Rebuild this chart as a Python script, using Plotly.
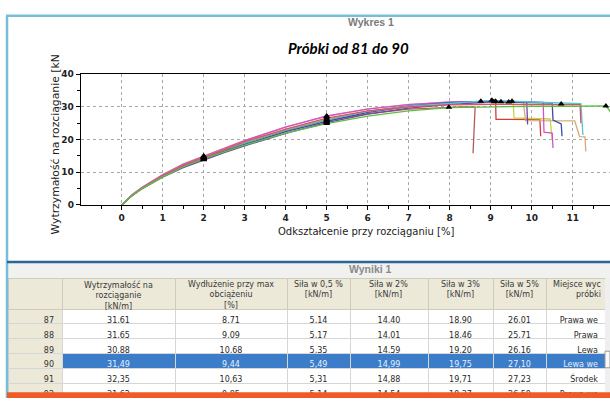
import plotly.graph_objects as go

W, H = 610, 403

# ---------------- chart data (strain [%], force [kN/m]) ----------------
curve_colors = ["#b05a5a", "#d83a3a", "#c6d44a", "#d4aa7c", "#7444a8",
                "#d052c8", "#3c4ca8", "#52c6d6", "#e0505e", "#5cbf42"]

c1_x = [0, 0.25, 0.5, 1, 1.5, 2, 2.5, 3, 4, 5, 6, 7, 7.98, 8.3, 8.62, 8.6, 8.57]
c1_y = [0, 3.0, 5.35, 9.1, 12.2, 14.6, 16.9, 19.0, 22.7, 25.8, 27.9, 29.3, 29.9, 30.0, 29.9, 22.5, 15.8]

c2_x = [0, 0.25, 0.5, 1, 1.5, 2, 2.5, 3, 4, 5, 6, 7, 8, 9.08, 9.12, 9.13, 9.6, 10.2, 10.22]
c2_y = [0, 2.9, 5.14, 8.9, 11.9, 14.4, 16.8, 18.9, 23.0, 26.0, 28.6, 30.3, 31.2, 31.6, 31.5, 26.2, 26.2, 26.1, 21.0]

c3_x = [0, 0.25, 0.5, 1, 1.5, 2, 2.5, 3, 4, 5, 6, 7, 8, 9.12, 9.55, 9.57, 10.0, 10.45, 10.5]
c3_y = [0, 2.9, 5.17, 8.7, 11.6, 14.0, 16.3, 18.46, 22.5, 25.7, 28.3, 30.1, 31.2, 31.7, 31.5, 26.6, 26.5, 26.3, 19.9]

c4_x = [0, 0.25, 0.5, 1, 1.5, 2, 2.5, 3, 4, 5, 6, 7, 8, 9.44, 9.8, 9.85, 10.5, 11.05, 11.17, 11.3, 11.32]
c4_y = [0, 3.1, 5.49, 9.3, 12.6, 14.99, 17.5, 19.75, 23.9, 27.1, 29.4, 30.8, 31.4, 31.49, 31.3, 25.8, 25.8, 25.7, 20.9, 20.8, 16.4]

c5_x = [0, 0.25, 0.5, 1, 1.5, 2, 2.5, 3, 4, 5, 6, 7, 8, 9.25, 9.88, 9.9]
c5_y = [0, 2.8, 5.0, 8.5, 11.4, 13.8, 16.0, 18.1, 21.9, 25.2, 27.8, 29.6, 30.8, 31.6, 31.3, 24.6]

c6_x = [0, 0.25, 0.5, 1, 1.5, 2, 2.5, 3, 4, 5, 6, 7, 8, 9.52, 10.28, 10.3, 10.5, 10.52]
c6_y = [0, 3.05, 5.31, 9.2, 12.4, 14.88, 17.3, 19.71, 23.8, 27.23, 29.3, 30.7, 31.5, 31.7, 31.4, 22.3, 22.0, 17.4]

c7_x = [0, 0.25, 0.5, 1, 1.5, 2, 2.5, 3, 4, 5, 6, 7, 8, 8.76, 9.5, 10.5, 10.52, 10.72, 10.74]
c7_y = [0, 2.85, 5.1, 8.7, 11.7, 14.1, 16.4, 18.5, 22.4, 25.6, 28.3, 30.2, 31.3, 31.7, 31.5, 31.2, 26.0, 24.8, 21.0]

c8_x = [0, 0.25, 0.5, 1, 1.5, 2, 2.5, 3, 4, 5, 6, 7, 8, 9.03, 10.0, 11.2, 11.25]
c8_y = [0, 2.95, 5.2, 8.9, 12.0, 14.5, 16.9, 19.0, 23.0, 26.2, 28.6, 30.2, 31.2, 32.0, 31.5, 31.0, 21.4]

c9_x = [0, 0.25, 0.5, 1, 1.5, 2, 2.5, 3, 4, 5, 6, 7, 8, 9, 10, 10.72, 11.18, 11.2]
c9_y = [0, 2.9, 5.14, 8.9, 12.0, 14.54, 16.9, 19.37, 23.2, 26.59, 28.8, 30.0, 30.6, 30.8, 30.8, 30.9, 30.7, 25.0]

c10_x = [0, 0.25, 0.5, 1, 1.5, 2, 2.5, 3, 4, 5, 6, 7, 8, 9, 10, 11, 11.81, 11.9, 12.0]
c10_y = [0, 2.8, 5.0, 8.6, 11.6, 14.1, 16.2, 18.3, 22.0, 24.9, 27.2, 28.8, 29.8, 30.1, 30.2, 30.2, 30.3, 28.9, 26.8]

curves_x = [c1_x, c2_x, c3_x, c4_x, c5_x, c6_x, c7_x, c8_x, c9_x, c10_x]
curves_y = [c1_y, c2_y, c3_y, c4_y, c5_y, c6_y, c7_y, c8_y, c9_y, c10_y]

# marker points: force at 2 %, force at 5 %, maximum
f2 = [14.6, 14.4, 14.0, 14.99, 13.8, 14.88, 14.1, 14.5, 14.54, 14.1]
f5 = [25.8, 26.0, 25.7, 27.1, 25.2, 27.23, 25.6, 26.2, 26.59, 24.9]
e_max = [7.98, 9.08, 9.12, 9.44, 9.25, 9.52, 8.76, 9.03, 10.72, 11.81]
f_max = [29.9, 31.6, 31.7, 31.49, 31.6, 31.7, 31.7, 32.0, 30.9, 30.3]

x_ticks = [0, 1, 2, 3, 4, 5, 6, 7, 8, 9, 10, 11]
x_minor = [-0.5, 0.5, 1.5, 2.5, 3.5, 4.5, 5.5, 6.5, 7.5, 8.5, 9.5, 10.5, 11.5]
x_cut_tick = 12
y_ticks = [0, 10, 20, 30, 40]
y_minor = [5, 15, 25, 35]

# ---------------- table data ----------------
row_ids = ["87", "88", "89", "90", "91", "92"]
strength = ["31,61", "31,65", "30,88", "31,49", "32,35", "31,62"]
elong = ["8,71", "9,09", "10,68", "9,44", "10,63", "9,85"]
f05 = ["5,14", "5,17", "5,35", "5,49", "5,31", "5,14"]
f2s = ["14,40", "14,01", "14,59", "14,99", "14,88", "14,54"]
f3s = ["18,90", "18,46", "19,20", "19,75", "19,71", "19,37"]
f5s = ["26,01", "25,71", "26,16", "27,10", "27,23", "26,59"]
place = ["Prawa\u00a0we", "Prawa", "Lewa", "Lewa\u00a0we", "Środek", "Prawa\u00a0we"]
headers = ["", "Wytrzymałość na<br>rozciąganie<br>[kN/m]", "Wydłużenie przy max<br>obciążeniu<br>[%]",
           "Siła w 0,5 %<br>[kN/m]", "Siła w 2%<br>[kN/m]", "Siła w 3%<br>[kN/m]",
           "Siła w 5%<br>[kN/m]", "Miejsce wyc<br>próbki"]
selected_row = 3

col_edges = [8, 62, 175, 287, 350, 428, 493, 546, 606]


def px(x):
    return x / W


def py(y):
    return 1 - y / H


fig = go.Figure()

for cx, cy, col in zip(curves_x, curves_y, curve_colors):
    fig.add_trace(go.Scatter(x=cx, y=cy, mode="lines", line=dict(color=col, width=1.3),
                             showlegend=False, hoverinfo="skip"))

mx = [2] * len(f2) + [5] * len(f5) + e_max
my = f2 + f5 + f_max
fig.add_trace(go.Scatter(x=mx, y=my, mode="markers", showlegend=False,
                         marker=dict(symbol="triangle-up", size=6, color="black"),
                         cliponaxis=False))

# table
ncol = len(headers)
nrow = len(row_ids)
beige = "#ece9d9"
blue = "#3b7dc8"
fills = [[beige] * nrow]
fcols = [["#333333"] * nrow]
for c in range(1, ncol):
    fills.append([blue if r == selected_row else "white" for r in range(nrow)])
    fcols.append(["#e6eefa" if r == selected_row else "#2a2a2a" for r in range(nrow)])

widths = [col_edges[i + 1] - col_edges[i] for i in range(ncol)]
fig.add_trace(go.Table(
    domain=dict(x=[px(col_edges[0]), px(col_edges[-1])], y=[0, py(280)]),
    columnwidth=widths,
    header=dict(values=[""] * ncol, fill_color=beige, line_color="#cfcbbd",
                font=dict(family="DejaVu Sans", size=8, color="#3a3a3a"), height=31),
    cells=dict(values=[row_ids, strength, elong, f05, f2s, f3s, f5s, place],
               fill_color=fills, line_color="#d6d6d6",
               font=dict(family="DejaVu Sans", size=8, color=fcols),
               align=["right"] + ["center"] * 6 + ["right"], height=14.8),
))

axis_font = dict(family="DejaVu Sans", size=9, color="#222222", weight="bold")
fig.update_layout(
    width=W, height=H, margin=dict(l=0, r=0, t=0, b=0),
    paper_bgcolor="white", plot_bgcolor="white",
    xaxis=dict(domain=[px(80.7), 1.0], range=[-1, 11.91], tickvals=x_ticks,
               showline=True, linecolor="black", linewidth=1, mirror=True,
               ticks="outside", ticklen=4, tickcolor="black",
               minor=dict(tickvals=x_minor, ticks="outside", ticklen=3, tickcolor="black"),
               showgrid=True, gridcolor="#a8a8a8", griddash="dot", gridwidth=1,
               zeroline=False, tickfont=axis_font),
    yaxis=dict(domain=[py(205), py(71)], range=[0, 40], tickvals=y_ticks,
               showline=True, linecolor="black", linewidth=1,
               ticks="outside", ticklen=4, tickcolor="black",
               minor=dict(tickvals=y_minor, ticks="outside", ticklen=3, tickcolor="black"),
               showgrid=True, gridcolor="#a8a8a8", griddash="dot", gridwidth=1,
               zeroline=False, tickfont=axis_font),
)

shapes = [
    dict(type="line", xref="paper", yref="paper", x0=px(6), x1=1, y0=py(11), y1=py(11),
         line=dict(color="#78bed9", width=2.5)),
    dict(type="line", xref="paper", yref="paper", x0=px(7), x1=px(7), y0=py(11), y1=0,
         line=dict(color="#78bed9", width=2.5)),
    dict(type="rect", xref="paper", yref="paper", x0=px(8), x1=1, y0=py(280), y1=py(264),
         fillcolor="#f1f1ef", line=dict(width=0), layer="below"),
    dict(type="line", xref="paper", yref="paper", x0=px(7), x1=1, y0=py(263.5), y1=py(263.5),
         line=dict(color="#2c6699", width=2.5)),
    dict(type="rect", xref="paper", yref="paper", x0=px(605), x1=1, y0=py(398), y1=py(280),
         fillcolor="#efefef", line=dict(width=0)),
    dict(type="rect", xref="paper", yref="paper", x0=px(605), x1=1, y0=py(372), y1=py(355),
         fillcolor="#fafafa", line=dict(color="#9a9a9a", width=1)),
    dict(type="rect", xref="paper", yref="paper", x0=px(7), x1=1, y0=0, y1=py(397),
         fillcolor="#f05a28", line=dict(width=0)),
]
fig.update_layout(shapes=shapes)


def ann(text, x, y, size, color, family="DejaVu Sans", xanchor="center", yanchor="middle",
        align="center", **kw):
    return dict(text=text, x=px(x), y=py(y), xref="paper", yref="paper", showarrow=False,
                xanchor=xanchor, yanchor=yanchor, align=align,
                font=dict(family=family, size=size, color=color), **kw)


annotations = [
    ann("<b>Wykres 1</b>", 371, 17, 10.5, "#7a7a7a", family="Liberation Sans"),
    ann("<b><i>Próbki od 81 do 90</i></b>", 348, 44, 15, "black", family="Lato"),
    ann("Odkształcenie przy rozciąganiu [%]", 366, 232, 10, "#222222"),
    ann("Wytrzymałość na rozciąganie [kN", 55, 143, 10.8, "#222222", textangle=-90),
    ann("<b>Wyniki 1</b>", 370, 271, 10.5, "#8a8a8a", family="Liberation Sans"),
    dict(text="12", x=x_cut_tick, y=0, xref="x", yref="y", yshift=-5, showarrow=False,
         xanchor="center", yanchor="top", font=axis_font),
]
# header labels
for i in range(1, ncol):
    if i == ncol - 1:
        annotations.append(ann(headers[i], col_edges[i + 1] - 3, 280, 8, "#3a3a3a",
                               xanchor="right", yanchor="top", align="right"))
    else:
        annotations.append(ann(headers[i], (col_edges[i] + col_edges[i + 1]) / 2, 280, 8,
                               "#3a3a3a", yanchor="top"))
fig.update_layout(annotations=annotations)

fig.write_html("out.html", config={"displayModeBar": False},
               post_script="document.body.style.margin='0px';")
